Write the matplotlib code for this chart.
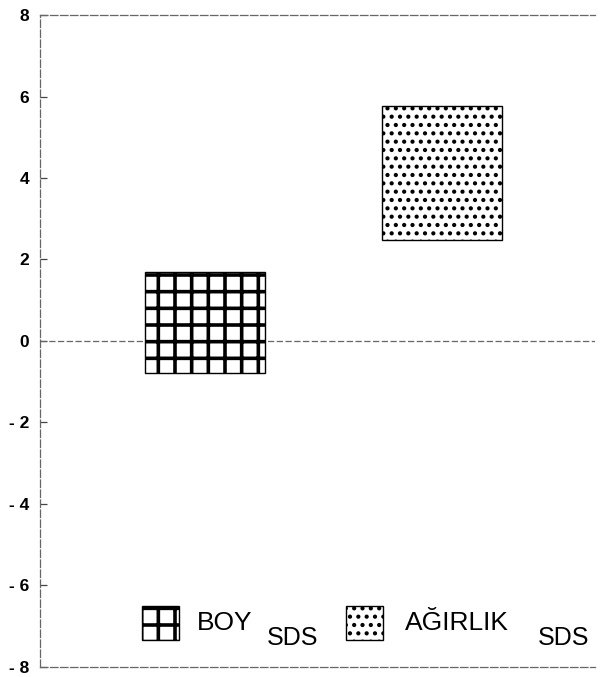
import matplotlib.pyplot as plt
from matplotlib.patches import Rectangle

# floating boxes: lower and upper SDS values
labels = ["BOY", "AĞIRLIK"]
lows = [-0.80, 2.49]
highs = [1.68, 5.78]
hatches = ["+", ".."]
yticks = [-8, -6, -4, -2, 0, 2, 4, 6, 8]
ytick_labels = ["- 8", "- 6", "- 4", "- 2", "0", "2", "4", "6", "8"]

plt.rcParams["font.family"] = ["Liberation Sans", "DejaVu Sans"]

fig = plt.figure(figsize=(6, 6.77), dpi=100)
ax = fig.add_axes([0.067, 0.0155, 0.925, 0.962])

x = [1, 2]
heights = [h - l for h, l in zip(highs, lows)]
bars = ax.bar(x, heights, bottom=lows, width=0.506, color="white",
              edgecolor="black", linewidth=1.0, zorder=3)
for b, h in zip(bars, hatches):
    b.set_hatch(h)
    if hasattr(b, "set_hatch_linewidth"):
        b.set_hatch_linewidth(2.6 if h == "+" else 1.8)

ax.axhline(0, color="#666666", lw=0.9, ls=(0, (5, 2)), zorder=2)

ax.set_xlim(0.305, 2.645)
ax.set_ylim(-8, 8)
ax.set_xticks([])
ax.set_yticks(yticks)
ax.set_yticklabels(ytick_labels, fontsize=12.5, fontweight="bold")
ax.tick_params(axis="y", direction="in", length=5, width=0.9, pad=8,
               color="#444444")

for side in ["left", "top", "bottom"]:
    ax.spines[side].set_color("#666666")
    ax.spines[side].set_linewidth(0.9)
    ax.spines[side].set_linestyle((0, (6, 2)))
ax.spines["right"].set_visible(False)

# legend drawn by hand, with the lowered SDS
legend_items = [
    (0.184, 0.283, 0.409),
    (0.551, 0.658, 0.897),
]
for (sx, tx, sdsx), lab, h in zip(legend_items, labels, hatches):
    r = Rectangle((sx, 0.041), 0.066, 0.052, transform=ax.transAxes,
                  facecolor="white", edgecolor="black", lw=1.0, hatch=h,
                  zorder=4)
    if hasattr(r, "set_hatch_linewidth"):
        r.set_hatch_linewidth(2.6 if h == "+" else 1.8)
    ax.add_patch(r)
    ax.text(tx, 0.056, lab, transform=ax.transAxes,
            fontsize=19, va="baseline", ha="left")
    ax.text(sdsx, 0.033, "SDS", transform=ax.transAxes, fontsize=18,
            va="baseline", ha="left")

fig.savefig("out.png", dpi=100)
